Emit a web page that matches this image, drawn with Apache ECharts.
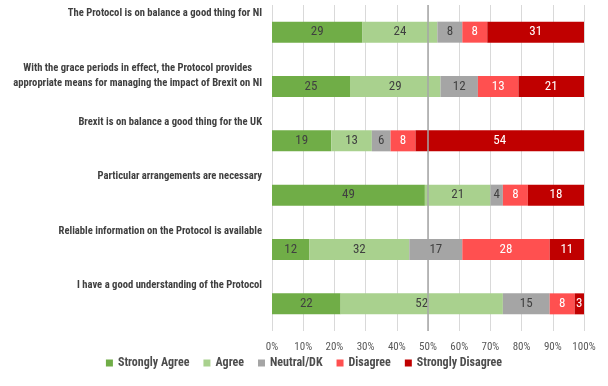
<!DOCTYPE html>
<html>
<head>
<meta charset="utf-8">
<script src="https://cdn.jsdelivr.net/npm/echarts@6/dist/echarts.min.js"></script>
<style>html,body{margin:0;padding:0;background:#fff}#c{width:608px;height:386px}</style>
</head>
<body>
<div id="c"></div>
<script>
var categories = [
  "The Protocol is on balance a good thing for NI",
  "With the grace periods in effect, the Protocol provides\nappropriate means for managing the impact of Brexit on NI",
  "Brexit is on balance a good thing for the UK",
  "Particular arrangements are necessary",
  "Reliable information on the Protocol is available",
  "I have a good understanding of the Protocol"
];
var seriesNames = ["Strongly Agree", "Agree", "Neutral/DK", "Disagree", "Strongly Disagree"];
var stronglyAgree = [29, 25, 19, 49, 12, 22];
var agree = [24, 29, 13, 21, 32, 52];
var neutral = [8, 12, 6, 4, 17, 15];
var disagree = [8, 13, 8, 8, 28, 8];
var stronglyDisagree = [31, 21, 54, 18, 11, 3];
var tickValues = [0, 10, 20, 30, 40, 50, 60, 70, 80, 90, 100];

var colors = ["#70AD47", "#A9D18E", "#A5A5A5", "#FF5050", "#C00000"];
var labelColors = ["#404040", "#404040", "#404040", "#FFFFFF", "#FFFFFF"];
var FONT = "'Roboto Condensed', 'Liberation Sans Narrow', Arial, sans-serif";
var allData = [stronglyAgree, agree, neutral, disagree, stronglyDisagree];

var series = allData.map(function (d, i) {
  var s = {
    name: seriesNames[i],
    type: "bar",
    stack: "total",
    barWidth: 21,
    data: d,
    itemStyle: { color: colors[i] },
    label: {
      show: true,
      position: "inside",
      color: labelColors[i],
      fontFamily: FONT,
      fontSize: 13
    },
    emphasis: { disabled: true }
  };
  if (i === 4) {
    s.markLine = {
      silent: true,
      symbol: "none",
      label: { show: false },
      lineStyle: { color: "#A6A6A6", width: 1.5, type: "solid" },
      data: [{ xAxis: 50 }]
    };
  }
  return s;
});

var chart = echarts.init(document.getElementById("c"), null, { renderer: "canvas" });
chart.setOption({
  animation: false,
  color: colors,
  grid: { left: 272, right: 24, top: 5, bottom: 55, containLabel: false, outerBoundsMode: "none" },
  legend: {
    data: seriesNames,
    bottom: 12,
    left: "center",
    icon: "rect",
    itemWidth: 7,
    itemHeight: 7,
    itemGap: 14,
    itemStyle: { borderWidth: 0 },
    textStyle: { color: "#4D4D4D", fontFamily: FONT, fontSize: 12, fontWeight: "bold" }
  },
  xAxis: {
    type: "value",
    min: 0,
    max: 100,
    interval: 10,
    axisLine: { show: false },
    axisTick: { show: false },
    splitLine: { show: true, lineStyle: { color: "#D9D9D9", width: 1 } },
    axisLabel: {
      color: "#595959",
      fontFamily: FONT,
      fontSize: 11,
      margin: 11,
      formatter: function (v) { return tickValues.indexOf(v) >= 0 ? v + "%" : ""; }
    }
  },
  yAxis: {
    type: "category",
    data: categories,
    inverse: true,
    axisLine: { show: false },
    axisTick: { show: false },
    splitLine: { show: false },
    axisLabel: {
      interval: 0,
      margin: 10,
      verticalAlign: "middle",
      formatter: function (v) {
        var lines = v.split("\n");
        var out = lines.map(function (l) { return "{t|" + l + "}"; });
        if (lines.length === 1) out.push("{t| }");
        out.push("{s| }");
        return out.join("\n");
      },
      rich: {
        t: {
          color: "#404040",
          fontFamily: FONT,
          fontSize: 10.6,
          fontWeight: "bold",
          lineHeight: 15,
          align: "center"
        },
        s: { fontSize: 2, lineHeight: 22 }
      }
    }
  },
  series: series
});
</script>
</body>
</html>
